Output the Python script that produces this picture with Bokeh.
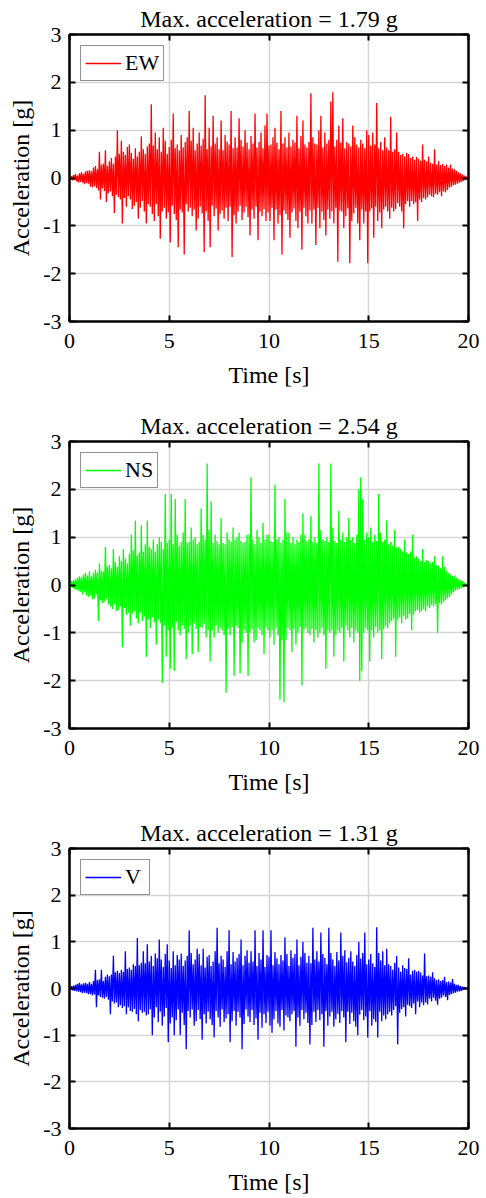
from bokeh.plotting import figure
from bokeh.layouts import column
from bokeh.models import LinearAxis, Range1d, FixedTicker, Legend, LegendItem
from bokeh.embed import file_html
from bokeh.resources import INLINE

dt = 0.05  # sample spacing [s]

# one row = one second (20 samples)
ew = [
    0.00, -0.03, 0.04, -0.05, 0.06, -0.04, 0.08, -0.07, 0.05, -0.09, 0.10, -0.08, 0.12, -0.10, 0.09, -0.13, 0.14, -0.11, 0.15, -0.12,
    0.16, -0.18, 0.14, -0.20, 0.22, -0.17, 0.25, -0.21, 0.18, -0.26, 0.55, -0.45, 0.28, -0.22, 0.30, -0.27, 0.58, -0.50, 0.25, -0.32,
    0.35, -0.28, 0.42, -0.38, 0.30, -0.73, 0.45, -0.35, 1.00, -0.40, 0.50, -0.45, 0.78, -0.95, 0.55, -0.42, 0.48, -0.60, 0.65, -0.38,
    0.70, -0.45, 0.52, -0.65, 0.40, -0.58, 0.62, -0.50, 0.45, -0.85, 0.55, -0.62, 0.87, -0.48, 0.60, -0.70, 0.50, -0.95, 0.66, -0.55,
    0.72, -0.60, 1.54, -0.75, 0.68, -0.90, 0.95, -0.55, 0.60, -0.80, 0.85, -1.27, 0.55, -0.70, 1.05, -0.62, 0.78, -0.85, 0.50, -0.72,
    0.65, -1.35, 0.80, -0.58, 1.35, -0.75, 0.62, -0.88, 0.70, -1.45, 0.58, -0.66, 0.90, -0.72, 0.64, -1.60, 0.75, -0.55, 0.85, -0.70,
    1.40, -0.62, 0.78, -0.80, 1.05, -0.66, 0.58, -1.10, 0.72, -0.85, 0.95, -0.60, 0.68, -0.74, 0.82, -1.55, 1.73, -0.70, 0.60, -0.90,
    1.05, -1.45, 0.66, -0.58, 1.30, -0.80, 0.72, -0.64, 0.85, -1.10, 0.60, -0.75, 1.20, -0.68, 0.58, -0.85, 0.90, -0.62, 0.76, -0.90,
    0.70, -0.60, 1.40, -1.65, 0.62, -0.78, 0.85, -0.95, 0.64, -0.70, 1.25, -0.58, 0.80, -0.88, 0.66, -0.72, 1.00, -0.60, 0.74, -0.82,
    0.60, -1.20, 0.88, -0.66, 0.72, -0.85, 1.35, -0.60, 0.64, -1.30, 0.75, -0.70, 0.95, -0.80, 0.62, -0.65, 1.10, -0.90, 1.35, -0.72,
    0.68, -0.90, 0.70, -0.62, 0.85, -1.30, 1.05, -0.66, 0.74, -0.95, 0.60, -0.78, 1.40, -1.60, 0.72, -0.68, 0.85, -0.75, 0.64, -0.88,
    0.95, -1.25, 0.66, -0.72, 0.80, -0.64, 0.74, -0.90, 1.30, -1.05, 0.62, -0.70, 0.88, -1.50, 1.20, -0.62, 0.70, -0.80, 0.64, -0.95,
    0.75, -0.68, 1.77, -0.95, 0.85, -0.66, 0.72, -1.40, 0.70, -0.62, 1.00, -1.05, 1.30, -0.70, 0.64, -0.88, 0.95, -1.20, 0.72, -0.66,
    0.80, -0.85, 1.60, -0.70, 1.79, -0.95, 0.66, -0.62, 0.80, -1.75, 1.10, -0.68, 0.74, -0.70, 1.25, -1.05, 0.62, -0.80, 0.75, -0.64,
    0.72, -1.78, 0.66, -0.90, 1.10, -0.74, 0.85, -0.62, 0.70, -0.95, 0.64, -1.30, 0.80, -0.66, 0.72, -0.95, 0.62, -0.70, 1.00, -1.78,
    0.90, -0.70, 0.68, -0.64, 0.95, -1.25, 0.70, -0.60, 1.57, -0.90, 0.62, -0.72, 0.75, -1.05, 0.58, -0.66, 0.85, -0.60, 0.64, -0.70,
    0.58, -0.85, 1.28, -0.62, 0.55, -0.70, 0.60, -0.65, 0.95, -0.52, 0.55, -0.60, 0.48, -0.70, 0.50, -1.05, 0.45, -0.55, 0.52, -0.48,
    0.50, -0.60, 0.42, -0.48, 0.45, -0.55, 0.38, -0.50, 0.44, -0.90, 0.40, -0.45, 0.36, -0.50, 0.70, -0.42, 0.38, -0.45, 0.35, -0.40,
    0.45, -0.35, 0.32, -0.38, 0.30, -0.40, 0.60, -0.33, 0.28, -0.35, 0.35, -0.30, 0.27, -0.38, 0.30, -0.28, 0.25, -0.30, 0.28, -0.25,
    0.22, -0.20, 0.28, -0.18, 0.20, -0.15, 0.18, -0.14, 0.15, -0.12, 0.12, -0.10, 0.10, -0.08, 0.07, -0.06, 0.05, -0.04, 0.03, -0.02,
    0.00,
]

ns = [
    0.00, -0.05, 0.08, -0.06, 0.10, -0.09, 0.12, -0.10, 0.15, -0.12, 0.18, -0.14, 0.16, -0.20, 0.22, -0.15, 0.25, -0.22, 0.20, -0.25,
    0.28, -0.22, 0.18, -0.30, 0.25, -0.28, 0.32, -0.20, 0.26, -0.75, 0.45, -0.32, 0.30, -0.38, 0.28, -0.35, 0.80, -0.30, 0.38, -0.40,
    0.42, -0.45, 0.35, -0.50, 0.75, -0.40, 0.48, -0.55, 0.38, -0.52, 0.60, -0.45, 0.50, -1.30, 0.75, -0.48, 0.55, -0.62, 0.45, -0.58,
    0.65, -0.85, 1.05, -0.60, 0.72, -0.55, 1.35, -0.70, 0.62, -0.80, 0.68, -0.58, 1.25, -0.75, 0.70, -0.66, 0.85, -1.50, 1.35, -0.72,
    0.80, -0.90, 0.75, -0.68, 0.95, -0.78, 0.70, -1.25, 0.85, -0.72, 1.00, -0.80, 0.90, -2.05, 0.75, -0.85, 1.90, -1.50, 0.88, -0.95,
    0.95, -1.75, 1.90, -0.90, 0.85, -1.80, 1.80, -0.78, 1.05, -0.95, 0.82, -1.05, 0.90, -0.85, 1.10, -0.92, 1.80, -1.55, 0.88, -1.00,
    0.90, -0.85, 1.20, -1.45, 0.95, -0.80, 1.00, -0.92, 0.85, -1.40, 0.90, -0.88, 1.60, -0.90, 1.05, -0.82, 0.95, -1.10, 2.54, -0.95,
    1.15, -1.60, 1.75, -0.95, 0.88, -1.10, 1.05, -0.85, 0.92, -1.00, 0.85, -0.90, 1.40, -0.95, 0.88, -1.05, 0.85, -2.25, 1.10, -0.92,
    0.95, -1.05, 0.90, -0.88, 1.20, -1.90, 0.95, -0.85, 1.00, -0.90, 1.10, -1.85, 0.92, -1.20, 0.88, -0.95, 0.90, -1.00, 1.05, -1.90,
    1.05, -1.00, 2.25, -0.92, 0.95, -1.20, 0.85, -1.15, 1.15, -0.90, 1.00, -0.95, 0.88, -1.05, 1.30, -1.45, 0.95, -0.88, 1.05, -0.95,
    1.05, -1.10, 0.92, -0.95, 0.90, -1.25, 2.10, -0.90, 0.95, -1.05, 1.00, -2.40, 0.88, -1.15, 0.95, -2.45, 1.80, -1.15, 1.10, -0.90,
    1.10, -0.95, 0.88, -1.40, 1.00, -0.92, 0.85, -1.25, 0.95, -1.00, 0.90, -0.88, 1.05, -2.10, 1.50, -0.95, 1.05, -0.90, 0.92, -1.00,
    0.95, -1.05, 1.45, -0.92, 0.90, -1.20, 1.00, -0.95, 0.88, -1.10, 2.54, -1.00, 1.15, -0.90, 0.95, -1.05, 0.92, -1.75, 1.00, -0.95,
    0.90, -1.00, 2.54, -0.95, 1.20, -1.50, 0.92, -1.05, 0.88, -0.95, 1.55, -1.00, 0.95, -0.90, 1.10, -1.60, 0.90, -0.85, 1.00, -0.95,
    1.40, -1.10, 0.95, -0.90, 1.00, -1.20, 0.88, -0.95, 1.05, -1.00, 2.00, -2.00, 2.25, -1.80, 1.80, -1.00, 0.95, -0.90, 1.10, -0.95,
    1.00, -1.60, 1.20, -0.95, 0.90, -1.10, 1.05, -0.88, 0.92, -1.00, 1.90, -0.95, 1.10, -1.55, 0.90, -0.92, 0.95, -0.85, 1.35, -0.90,
    0.85, -0.80, 0.90, -0.75, 0.82, -0.70, 1.15, -1.50, 0.78, -0.72, 0.80, -0.68, 0.75, -0.80, 0.70, -0.65, 0.95, -0.72, 0.68, -0.70,
    0.65, -0.60, 0.70, -0.95, 1.05, -0.62, 0.58, -0.55, 0.60, -0.52, 0.55, -0.58, 0.50, -0.55, 0.75, -0.50, 0.48, -0.55, 0.52, -0.45,
    0.50, -0.48, 0.45, -0.42, 0.48, -0.45, 0.60, -0.40, 0.42, -1.00, 0.40, -0.38, 0.35, -0.40, 0.60, -0.35, 0.38, -0.32, 0.30, -0.28,
    0.25, -0.25, 0.22, -0.20, 0.18, -0.15, 0.20, -0.12, 0.15, -0.10, 0.12, -0.08, 0.10, -0.06, 0.08, -0.05, 0.05, -0.03, 0.02, -0.01,
    0.00,
]

vert = [
    0.00, -0.03, 0.05, -0.04, 0.06, -0.05, 0.08, -0.06, 0.10, -0.07, 0.12, -0.08, 0.09, -0.10, 0.11, -0.09, 0.12, -0.10, 0.10, -0.12,
    0.14, -0.12, 0.10, -0.15, 0.16, -0.13, 0.40, -0.40, 0.18, -0.15, 0.20, -0.18, 0.40, -0.20, 0.16, -0.22, 0.25, -0.18, 0.30, -0.24,
    0.26, -0.55, 0.30, -0.28, 0.70, -0.32, 0.35, -0.30, 0.38, -0.40, 0.33, -0.36, 0.40, -0.42, 0.36, -0.38, 0.80, -0.55, 0.42, -0.40,
    0.45, -0.48, 0.40, -0.50, 0.52, -0.44, 0.48, -0.55, 1.08, -0.70, 0.50, -0.46, 0.55, -0.52, 0.80, -0.50, 0.54, -0.58, 0.95, -0.55,
    0.58, -0.45, 0.70, -1.00, 0.48, -0.62, 0.75, -0.40, 0.65, -0.72, 1.05, -0.50, 0.62, -0.80, 0.46, -0.60, 0.74, -0.42, 0.95, -1.15,
    0.60, -0.75, 0.44, -0.62, 0.80, -1.00, 0.50, -0.68, 0.72, -0.45, 0.62, -1.00, 0.75, -0.52, 0.48, -0.78, 0.60, -1.30, 0.70, -0.48,
    1.25, -0.62, 0.76, -0.45, 0.52, -0.80, 0.62, -0.70, 0.85, -0.46, 0.74, -0.66, 0.50, -1.10, 0.85, -0.55, 0.45, -0.75, 0.68, -0.50,
    0.72, -0.66, 0.48, -0.78, 0.58, -1.05, 0.80, -0.48, 1.30, -0.62, 0.54, -0.82, 0.70, -0.45, 0.62, -0.72, 0.46, -0.64, 0.80, -0.55,
    1.25, -1.15, 0.52, -0.70, 0.78, -0.48, 0.58, -0.80, 0.66, -0.50, 0.74, -0.62, 1.05, -1.30, 0.50, -0.76, 0.70, -0.45, 0.82, -0.60,
    0.55, -0.72, 0.80, -0.46, 0.58, -0.78, 1.25, -0.64, 0.48, -1.10, 0.76, -0.52, 0.62, -0.84, 1.25, -0.55, 0.46, -0.74, 0.72, -0.50,
    0.68, -0.80, 1.25, -0.95, 0.50, -0.66, 0.78, -0.48, 0.64, -0.75, 0.52, -0.82, 0.72, -0.46, 0.60, -0.90, 1.10, -0.58, 0.74, -0.62,
    0.48, -0.70, 0.82, -0.55, 0.66, -0.48, 0.74, -1.25, 1.05, -0.62, 0.50, -0.80, 0.68, -0.46, 1.00, -0.66, 0.76, -0.52, 0.55, -0.74,
    0.70, -1.20, 0.54, -0.78, 1.30, -0.50, 0.62, -0.72, 0.80, -0.46, 0.58, -0.68, 1.20, -0.55, 0.74, -1.25, 0.66, -0.48, 0.52, -0.80,
    1.30, -0.60, 0.76, -0.50, 0.62, -0.82, 0.48, -0.66, 0.78, -0.54, 0.60, -0.74, 1.20, -0.48, 0.70, -0.62, 0.82, -1.15, 0.56, -0.50,
    0.66, -0.76, 0.80, -0.52, 0.58, -0.70, 0.48, -0.82, 0.72, -1.00, 1.00, -0.56, 0.64, -0.46, 0.76, -0.68, 1.20, -0.60, 0.52, -1.05,
    0.62, -0.48, 0.74, -0.80, 0.54, -0.66, 0.46, -0.72, 1.31, -1.05, 0.76, -0.50, 0.60, -0.70, 0.80, -0.58, 0.50, -0.66, 0.85, -0.55,
    0.52, -0.50, 0.48, -0.58, 0.40, -0.46, 0.55, -0.38, 0.70, -1.20, 0.45, -0.52, 0.36, -0.44, 0.50, -0.40, 0.44, -0.60, 0.42, -0.35,
    0.65, -0.38, 0.30, -0.42, 0.38, -0.32, 0.40, -0.55, 0.36, -0.28, 0.38, -0.40, 0.34, -0.30, 0.28, -0.36, 0.75, -0.30, 0.26, -0.34,
    0.28, -0.22, 0.25, -0.28, 0.35, -0.20, 0.22, -0.26, 0.18, -0.35, 0.20, -0.22, 0.16, -0.20, 0.18, -0.15, 0.25, -0.18, 0.14, -0.25,
    0.15, -0.14, 0.13, -0.12, 0.20, -0.10, 0.10, -0.09, 0.08, -0.07, 0.08, -0.06, 0.05, -0.05, 0.04, -0.03, 0.03, -0.02, 0.02, -0.01,
    0.00,
]

series_names = ["EW", "NS", "V"]
series_colors = ["#ff0000", "#00ff00", "#0000ff"]
series_values = [ew, ns, vert]
x_ticks = [0, 5, 10, 15, 20]
y_ticks = [-3, -2, -1, 0, 1, 2, 3]
y_tick_text = {-3: "-3", -2: "-2", -1: "-1", 0: "0", 1: "1", 2: "2", 3: "3"}
x_label = "Time [s]"
y_label = "Acceleration [g]"

FONT = "Liberation Serif"


def make_panel(name, color, vals, height, bottom):
    t = [i * dt for i in range(len(vals))]
    peak = max(abs(a) for a in vals)
    p = figure(width=485, height=height, output_backend="svg", toolbar_location=None,
               x_range=Range1d(0, 20), y_range=Range1d(-3, 3),
               min_border_left=69, min_border_right=17, min_border_top=0,
               min_border_bottom=bottom,
               title=f"Max. acceleration = {peak:.2f} g")
    p.title.text_font = FONT
    p.title.text_font_size = "24px"
    p.title.text_font_style = "normal"
    p.title.align = "center"
    p.title.text_color = "#000000"
    p.title.standoff = 6
    p.background_fill_color = "white"
    p.border_fill_color = "white"
    p.outline_line_color = "black"
    p.outline_line_width = 2

    for ax, ticks in ((p.xaxis[0], x_ticks), (p.yaxis[0], y_ticks)):
        ax.ticker = FixedTicker(ticks=ticks)
        ax.major_label_text_font = FONT
        ax.major_label_text_font_size = "22px"
        ax.major_label_text_color = "#000000"
        ax.axis_label_text_font = FONT
        ax.axis_label_text_font_size = "24px"
        ax.axis_label_text_font_style = "normal"
        ax.axis_label_text_color = "#000000"
        ax.axis_line_color = "black"
        ax.axis_line_width = 2
        ax.major_tick_in = 6
        ax.major_tick_out = 0
        ax.major_tick_line_width = 2
        ax.minor_tick_line_color = None
    p.xaxis.axis_label = x_label
    p.yaxis.axis_label = y_label
    p.xaxis.major_label_standoff = 12
    p.yaxis.major_label_standoff = 8
    p.yaxis.major_label_overrides = y_tick_text
    p.xaxis.axis_label_standoff = 11
    p.yaxis.axis_label_standoff = 6

    for loc, ticks in (("right", y_ticks), ("above", x_ticks)):
        ax = LinearAxis(ticker=FixedTicker(ticks=ticks),
                        major_label_text_font_size="1px", major_label_text_alpha=0,
                        major_label_standoff=0,
                        major_tick_in=6, major_tick_out=0, major_tick_line_width=2,
                        axis_line_width=2, axis_line_color="black",
                        minor_tick_line_color=None)
        p.add_layout(ax, loc)

    p.xgrid.ticker = FixedTicker(ticks=x_ticks)
    p.ygrid.ticker = FixedTicker(ticks=y_ticks)
    for g in (p.xgrid[0], p.ygrid[0]):
        g.grid_line_color = "#d6d6d6"
        g.grid_line_width = 1.5

    r = p.line(t, vals, line_color=color, line_width=1.3)
    leg = Legend(items=[LegendItem(label=name, renderers=[r])], location="top_left",
                 margin=11, padding=4, spacing=0,
                 label_text_font=FONT, label_text_font_size="22px",
                 label_text_color="#000000",
                 label_height=24, glyph_height=24, glyph_width=36, label_standoff=4,
                 border_line_color="#262626", border_line_width=1.5,
                 background_fill_color="white", background_fill_alpha=1.0)
    p.add_layout(leg)
    return p


panels = []
for k, (nm, col, vals) in enumerate(zip(series_names, series_colors, series_values)):
    if k < 2:
        panels.append(make_panel(nm, col, vals, 407, 86))
    else:
        panels.append(make_panel(nm, col, vals, 383, 62))

layout = column(*panels, spacing=0)
open("out.html", "w").write(file_html(layout, INLINE))
